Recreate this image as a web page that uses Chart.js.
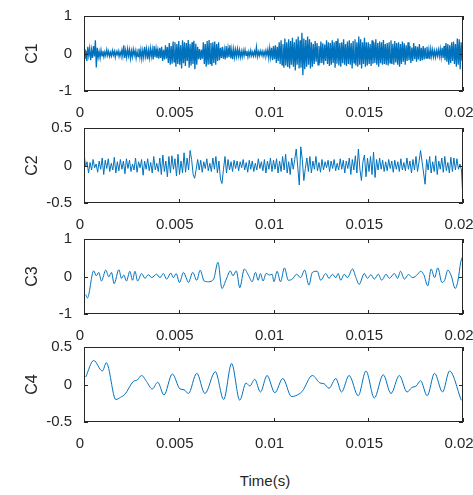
<!DOCTYPE html>
<html>
<head>
<meta charset="utf-8">
<script src="https://cdn.jsdelivr.net/npm/chart.js@4"></script>
<style>
  body { margin: 0; background: #fff; }
  #fig { position: relative; width: 473px; height: 495px; overflow: hidden; }
  #fig canvas { position: absolute; left: 0; }
  #xlabel { position: absolute; top: 472px; left: 215px; width: 100px; text-align: center;
            font: 15px "Liberation Sans", Arial, sans-serif; color: #262626; }
</style>
</head>
<body>
<div id="fig">
  <canvas id="c1" width="473" height="117" style="top:4px"></canvas>
  <canvas id="c2" width="473" height="117" style="top:116px"></canvas>
  <canvas id="c3" width="473" height="117" style="top:227px"></canvas>
  <canvas id="c4" width="473" height="117" style="top:335px"></canvas>
  <div id="xlabel">Time(s)</div>
</div>
<script>
// tick labels
const xTicks = [0, 0.005, 0.01, 0.015, 0.02];
const yTicksC1 = [-1, 0, 1];
const yTicksC2 = [-0.5, 0, 0.5];
const yTicksC3 = [-1, 0, 1];
const yTicksC4 = [-0.5, 0, 0.5];

// C1: sampled every 0.05 ms (one row = 1 ms)
const C1_STEP = 0.00005;
const c1Value = [
  0.12,-0.15,0.08,-0.2,0.18,-0.05,0.14,-0.18,0.1,-0.12,0.2,-0.08,0.35,-0.37,0.15,-0.1,0.05,-0.12,0.09,-0.06,
  0.07,-0.09,0.04,-0.06,0.1,-0.05,0.06,-0.08,0.03,-0.07,0.08,-0.04,0.06,-0.1,0.05,-0.03,0.07,-0.08,0.04,-0.06,
  0.09,-0.07,0.22,-0.12,0.08,-0.1,0.12,-0.06,0.1,-0.13,0.07,-0.09,0.11,-0.05,0.08,-0.12,0.06,-0.08,0.13,-0.1,
  0.1,-0.14,0.08,-0.1,0.18,-0.07,0.12,-0.15,0.09,-0.11,0.14,-0.08,0.11,-0.16,0.2,-0.1,0.13,-0.12,0.09,-0.14,
  0.15,-0.12,0.18,-0.2,0.1,-0.16,0.22,-0.14,0.17,-0.25,0.28,-0.3,0.2,-0.27,0.32,-0.22,0.3,-0.35,0.25,-0.28,
  0.33,-0.3,0.22,-0.4,0.35,-0.26,0.3,-0.33,0.28,-0.2,0.36,-0.38,0.25,-0.32,0.3,-0.28,0.34,-0.42,0.26,-0.3,
  0.18,-0.15,0.12,-0.17,0.1,-0.14,0.3,-0.28,0.25,-0.35,0.33,-0.3,0.36,-0.27,0.28,-0.33,0.3,-0.25,0.32,-0.3,
  0.25,-0.2,0.3,-0.18,0.15,-0.12,0.18,-0.14,0.1,-0.16,0.2,-0.12,0.14,-0.1,0.22,-0.13,0.11,-0.15,0.12,-0.1,
  0.1,-0.08,0.12,-0.07,0.09,-0.1,0.06,-0.09,0.08,-0.06,0.1,-0.05,0.07,-0.09,0.05,-0.07,0.08,-0.06,0.04,-0.07,
  0.06,-0.05,0.17,-0.08,0.05,-0.06,0.07,-0.04,0.06,-0.07,0.05,-0.06,0.08,-0.05,0.1,-0.12,0.14,-0.1,0.15,-0.18,
  0.2,-0.15,0.22,-0.25,0.18,-0.2,0.3,-0.28,0.35,-0.3,0.25,-0.38,0.4,-0.32,0.3,-0.36,0.38,-0.4,0.33,-0.3,
  0.42,-0.35,0.3,-0.45,0.38,-0.3,0.45,-0.4,0.35,-0.38,0.55,-0.58,0.4,-0.42,0.36,-0.35,0.45,-0.3,0.38,-0.4,
  0.3,-0.35,0.25,-0.28,0.33,-0.22,0.28,-0.3,0.2,-0.26,0.32,-0.25,0.27,-0.3,0.24,-0.2,0.35,-0.28,0.3,-0.33,
  0.28,-0.3,0.35,-0.25,0.3,-0.38,0.33,-0.27,0.4,-0.32,0.28,-0.35,0.3,-0.26,0.38,-0.3,0.25,-0.33,0.32,-0.28,
  0.35,-0.3,0.28,-0.4,0.33,-0.25,0.38,-0.32,0.3,-0.35,0.45,-0.3,0.38,-0.4,0.3,-0.28,0.42,-0.35,0.3,-0.32,
  0.3,-0.28,0.25,-0.33,0.35,-0.27,0.3,-0.25,0.38,-0.3,0.28,-0.35,0.32,-0.26,0.3,-0.3,0.36,-0.28,0.25,-0.3,
  0.28,-0.32,0.3,-0.25,0.35,-0.28,0.26,-0.3,0.33,-0.24,0.28,-0.3,0.3,-0.35,0.25,-0.28,0.32,-0.22,0.27,-0.3,
  0.22,-0.2,0.3,-0.18,0.2,-0.25,0.16,-0.2,0.28,-0.15,0.2,-0.22,0.18,-0.16,0.25,-0.2,0.15,-0.18,0.2,-0.16,
  0.15,-0.12,0.18,-0.14,0.1,-0.15,0.12,-0.08,0.1,-0.09,0.07,-0.1,0.08,-0.06,0.1,-0.08,0.12,-0.1,0.15,-0.12,
  0.2,-0.18,0.28,-0.22,0.25,-0.3,0.22,-0.25,0.3,-0.2,0.32,-0.28,0.25,-0.35,0.4,-0.3,0.38,-0.42,0.3,-0.2,
  0.1
];

// C2: sampled every 0.08 ms (one row = 2 ms)
const C2_STEP = 0.00008;
const c2Value = [
  0.18,-0.02,0.05,-0.1,0.04,-0.06,0.08,-0.03,0.02,-0.09,0.06,-0.05,0.1,-0.12,0.07,-0.04,0.09,-0.08,0.03,-0.06,0.11,-0.1,0.05,-0.07,0.08,
  -0.05,0.06,-0.11,0.09,-0.04,0.07,-0.08,0.02,-0.06,0.1,-0.09,0.05,-0.03,0.08,-0.13,0.06,-0.05,0.09,-0.07,0.04,-0.1,0.12,-0.06,0.03,-0.08,
  0.1,-0.12,0.14,-0.08,0.06,-0.15,0.12,-0.1,0.13,-0.05,0.09,-0.14,0.15,-0.12,0.06,-0.1,0.17,-0.09,0.1,-0.06,0.2,0.08,-0.12,-0.17,-0.05,
  0.08,-0.06,0.07,-0.09,0.05,-0.04,0.09,-0.07,0.03,-0.08,0.1,-0.05,0.12,-0.1,0.06,-0.18,-0.24,-0.05,0.12,-0.1,0.08,-0.06,0.05,-0.08,0.07,
  -0.04,0.06,-0.07,0.05,-0.03,0.08,-0.06,0.04,-0.09,0.07,-0.05,0.06,-0.08,0.03,-0.06,0.09,-0.04,0.05,-0.07,0.08,-0.1,0.06,-0.05,0.1,-0.08,
  0.07,-0.05,0.09,-0.1,0.06,-0.08,0.12,-0.06,0.15,-0.1,0.05,-0.12,0.1,-0.05,0.08,0.22,-0.02,-0.26,0.25,0.08,-0.2,-0.04,0.1,-0.08,0.12,
  -0.1,0.06,-0.05,0.12,-0.07,0.04,-0.09,0.08,-0.06,0.05,-0.03,0.07,-0.08,0.06,-0.04,0.08,-0.07,0.03,-0.06,0.09,-0.05,0.07,-0.1,0.06,-0.04,
  0.1,-0.12,0.08,-0.06,0.13,-0.1,0.22,-0.05,-0.2,0.05,0.14,-0.15,0.1,-0.08,0.12,-0.12,0.18,-0.16,0.08,-0.06,0.1,-0.05,0.07,-0.08,0.05,
  -0.07,0.08,-0.04,0.06,-0.09,0.07,-0.05,0.05,-0.08,0.09,-0.06,0.04,-0.07,0.1,-0.05,0.06,-0.1,0.08,-0.06,0.12,-0.08,0.05,0.2,0.05,-0.1,
  -0.25,0.08,-0.06,0.12,-0.1,0.05,-0.08,0.13,-0.12,0.06,-0.05,0.1,-0.09,0.12,-0.07,0.04,-0.1,0.11,-0.08,0.1,-0.06,0.09,-0.05,0.02,-0.06,
  -0.47
];

// C3: turning points, time in ms
const c3TimeMs = [
  0.09,0.18,0.51,0.65,0.78,0.92,1.15,1.31,1.45,1.59,
  1.84,1.98,2.10,2.24,2.42,2.56,2.69,2.83,3.04,3.22,
  3.39,3.57,3.83,4.01,4.19,4.36,4.58,4.72,4.86,5.04,
  5.25,5.39,5.51,5.74,5.95,6.13,6.34,6.57,6.84,7.07,
  7.28,7.51,7.72,7.86,8.04,8.22,8.46,8.69,8.87,9.05,
  9.19,9.31,9.45,9.61,9.79,9.93,10.02,10.19,10.37,10.58,
  10.78,10.99,11.22,11.43,11.64,11.87,12.05,12.31,12.49,12.76,
  12.93,13.11,13.29,13.41,13.55,13.73,13.90,14.17,14.35,14.52,
  14.79,14.96,15.14,15.32,15.53,15.71,15.94,16.11,16.38,16.55,
  16.70,16.91,17.12,17.35,17.61,17.76,17.93,18.14,18.32,18.50,
  18.67,18.89,19.03,19.20,19.38,19.59,19.73,19.88,20.0
];
const c3Value = [
  -0.48,-0.57,0.15,0.02,0.11,-0.12,0.17,-0.01,0.11,-0.19,
  0.18,-0.05,0.04,-0.12,0.14,-0.1,0.14,-0.12,0.08,-0.05,
  0.05,-0.03,0.06,-0.03,0.08,-0.07,0.09,-0.03,0.08,-0.16,
  0.11,-0.03,-0.16,0.11,-0.1,0.17,-0.12,-0.14,-0.07,0.38,
  -0.32,-0.07,0.15,0.02,0.15,-0.3,0.2,0.02,-0.14,0.11,
  -0.1,0.08,-0.12,0.08,0.04,0.06,-0.14,0.14,-0.14,0.23,
  -0.1,-0.07,0.06,-0.03,0.17,-0.23,0.11,0.14,-0.1,0.08,
  -0.05,0.06,-0.03,0.08,-0.1,0.06,-0.03,0.2,-0.03,-0.21,
  0.08,-0.05,0.05,-0.07,0.06,-0.1,0.06,-0.05,0.08,-0.05,
  0.14,-0.07,0.05,-0.03,0.06,0.14,0.05,-0.25,0.2,-0.03,
  0.23,-0.16,-0.1,0.17,0.02,-0.32,-0.12,0.38,0.56
];

// C4: turning points, time in ms
const c4TimeMs = [
  0.09,0.51,0.97,1.18,1.68,1.93,2.16,2.6,2.81,3.04,
  3.3,3.6,3.89,4.22,4.66,5.07,5.28,5.51,5.95,6.38,
  6.93,7.37,7.79,8.22,8.55,8.75,9.01,9.31,9.66,10.07,
  10.49,10.95,11.17,11.52,12.05,12.46,12.67,12.93,13.29,13.59,
  13.99,14.47,14.88,15.32,15.79,16.2,16.64,17.05,17.3,17.53,
  17.76,18.11,18.5,18.92,19.29,19.91
];
const c4Value = [
  0.10,0.32,0.18,0.29,-0.20,-0.17,-0.13,0.04,0.06,0.12,
  0.04,-0.06,0.03,-0.14,0.14,-0.06,-0.07,-0.12,0.15,-0.12,
  0.17,-0.2,0.28,-0.21,0.02,-0.02,0.07,-0.1,0.12,-0.11,
  0.08,-0.16,-0.15,-0.09,0.12,0.02,0.01,-0.05,0.08,-0.1,
  0.12,-0.15,0.18,-0.18,0.13,-0.12,0.12,-0.1,-0.04,-0.02,
  0.05,-0.15,0.15,-0.1,0.18,-0.21
];

const LINE = '#0072BD';
const AXIS = '#262626';
const FONT = { family: '"Liberation Sans", Arial, sans-serif', size: 15 };

// box around the axes with inward tick marks on all four sides
const boxPlugin = {
  id: 'box',
  afterDatasetsDraw(chart) {
    const { ctx, chartArea: a, scales: { x, y } } = chart;
    const seg = (x1, y1, x2, y2) => { ctx.beginPath(); ctx.moveTo(x1, y1); ctx.lineTo(x2, y2); ctx.stroke(); };
    ctx.save();
    ctx.strokeStyle = AXIS;
    ctx.lineWidth = 1;
    ctx.strokeRect(a.left + 0.5, a.top + 0.5, a.width - 1, a.height - 1);
    x.ticks.forEach(t => {
      const px = Math.round(x.getPixelForValue(t.value)) + 0.5;
      seg(px, a.bottom, px, a.bottom - 4);
      seg(px, a.top, px, a.top + 4);
    });
    y.ticks.forEach(t => {
      const py = Math.round(y.getPixelForValue(t.value)) + 0.5;
      seg(a.left, py, a.left + 4, py);
      seg(a.right, py, a.right - 4, py);
    });
    ctx.restore();
  }
};

// stop the scales from shrinking the plot box for label overhang
function noOverhang(s) {
  s.paddingLeft = 0; s.paddingRight = 0; s.paddingTop = 0; s.paddingBottom = 0;
}

function makePanel(id, name, times, values, yTicks, smooth, width) {
  const points = times.map((t, i) => ({ x: t, y: values[i] }));
  return new Chart(document.getElementById(id), {
    type: 'line',
    data: {
      datasets: [{
        data: points,
        borderColor: LINE,
        borderWidth: width,
        pointRadius: 0,
        fill: false,
        tension: 0,
        cubicInterpolationMode: smooth ? 'monotone' : 'default'
      }]
    },
    options: {
      responsive: false,
      animation: false,
      events: [],
      layout: { padding: { top: 12, right: 10, left: 0, bottom: 0 } },
      plugins: { legend: { display: false }, tooltip: { enabled: false } },
      scales: {
        x: {
          type: 'linear',
          min: xTicks[0],
          max: xTicks[xTicks.length - 1],
          grid: { display: false, drawTicks: false },
          border: { display: false },
          afterBuildTicks: s => { s.ticks = xTicks.map(v => ({ value: v })); },
          afterFit: s => { s.height = 30; noOverhang(s); },
          ticks: {
            padding: 13,
            labelOffset: -4,
            font: FONT,
            color: AXIS,
            maxRotation: 0,
            autoSkip: false,
            callback: v => String(+v.toFixed(4))
          }
        },
        y: {
          min: yTicks[0],
          max: yTicks[yTicks.length - 1],
          grid: { display: false, drawTicks: false },
          border: { display: false },
          afterBuildTicks: s => { s.ticks = yTicks.map(v => ({ value: v })); },
          afterFit: s => { s.width = 84; noOverhang(s); },
          ticks: { padding: 12, font: FONT, color: AXIS, callback: v => String(v) },
          title: { display: true, text: name, font: { ...FONT, size: 16 }, color: AXIS, padding: { top: 23 } }
        }
      }
    },
    plugins: [boxPlugin]
  });
}

const c1Time = c1Value.map((_, i) => i * C1_STEP);
const c2Time = c2Value.map((_, i) => i * C2_STEP);
const c3Time = c3TimeMs.map(t => t / 1000);
const c4Time = c4TimeMs.map(t => t / 1000);

makePanel('c1', 'C1', c1Time, c1Value, yTicksC1, false, 1.3);
makePanel('c2', 'C2', c2Time, c2Value, yTicksC2, false, 1);
makePanel('c3', 'C3', c3Time, c3Value, yTicksC3, true, 1);
makePanel('c4', 'C4', c4Time, c4Value, yTicksC4, true, 1);
</script>
</body>
</html>
